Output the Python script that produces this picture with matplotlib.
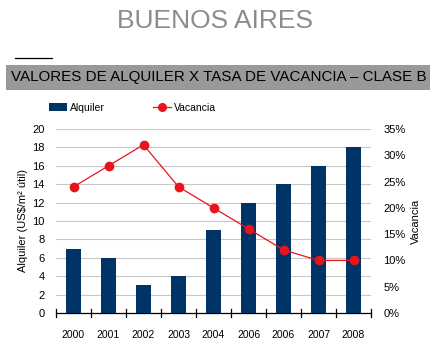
import matplotlib
matplotlib.use("Agg")
import matplotlib.pyplot as plt
import numpy as np
from matplotlib.lines import Line2D
from matplotlib.patches import Patch, Rectangle

plt.rcParams['font.family'] = ['Liberation Sans', 'DejaVu Sans']

years = ["2000", "2001", "2002", "2003", "2004", "2006", "2006", "2007", "2008"]
alquiler = [7, 6, 3, 4, 9, 12, 14, 16, 18]
vacancia = [24, 28, 32, 24, 20, 16, 12, 10, 10]

left_ticks = [0, 2, 4, 6, 8, 10, 12, 14, 16, 18, 20]
right_ticks = [0, 5, 10, 15, 20, 25, 30, 35]

BAR = "#003366"
RED = "#e8141c"

fig = plt.figure(figsize=(4.37, 3.49), dpi=100)

# Header
fig.text(0.492, 0.94, "BUENOS AIRES", ha="center", va="center",
         fontsize=19, color="#8c8c8c")
fig.add_artist(Line2D([15 / 437, 52 / 437], [1 - 57.5 / 349] * 2,
                      color="black", lw=0.9))
fig.add_artist(Rectangle((6 / 437, 1 - 90 / 349), 424 / 437, 25 / 349,
                         facecolor="#999999", edgecolor="none"))
fig.text(0.5, 1 - 77.5 / 349, "VALORES DE ALQUILER X TASA DE VACANCIA \u2013 CLASE B",
         ha="center", va="center", fontsize=10.9, color="black")

ax = fig.add_axes([56 / 437, 1 - 313 / 349, 315 / 437, 184 / 349])
x = np.arange(len(years))
ax.bar(x, alquiler, width=0.43, color=BAR, zorder=3)
ax.set_xlim(-0.5, len(years) - 0.5)
ax.set_ylim(0, 20)
ax.set_yticks(left_ticks)
ax.set_xticks(x)
ax.set_xticklabels(years, fontsize=7.5)
ax.yaxis.grid(True, color="#c8c8c8", lw=0.8, zorder=0)
ax.set_axisbelow(True)
for s in ["top", "right", "left"]:
    ax.spines[s].set_visible(False)
ax.spines["bottom"].set_color("black")
ax.spines["bottom"].set_linewidth(0.9)
ax.tick_params(axis="y", length=0, labelsize=8, pad=8)
ax.tick_params(axis="x", length=0, pad=12)
# tick marks between categories crossing the axis
for b in np.arange(-0.5, len(years), 1.0):
    ax.plot([b, b], [-0.45, 0.45], color="black", lw=0.9, clip_on=False, zorder=4)
ax.set_ylabel("Alquiler (US$/m\u00b2 \u00fatil)", fontsize=8, labelpad=3)

ax2 = ax.twinx()
ax2.plot(x, vacancia, color=RED, lw=0.9, marker="o", markersize=6,
         markerfacecolor=RED, markeredgecolor=RED, zorder=5)
ax2.set_ylim(0, 35)
ax2.set_yticks(right_ticks)
ax2.set_yticklabels([f"{v}%" for v in right_ticks])
ax2.tick_params(axis="y", length=0, labelsize=8, pad=9)
for s in ["top", "right", "left", "bottom"]:
    ax2.spines[s].set_visible(False)
ax2.set_ylabel("Vacancia", fontsize=8, labelpad=4)

handles = [Patch(facecolor=BAR, edgecolor="none"),
           Line2D([0], [0], color=RED, lw=0.9, marker="o", markersize=5.5)]
fig.legend(handles, ["Alquiler", "Vacancia"], loc="center left",
           bbox_to_anchor=(45 / 437, 1 - 108 / 349), ncol=2, frameon=False,
           fontsize=7.5, handlelength=1.7, handleheight=0.8, columnspacing=4.6,
           handletextpad=0.3, borderaxespad=0)

fig.savefig("out.png", dpi=100)
